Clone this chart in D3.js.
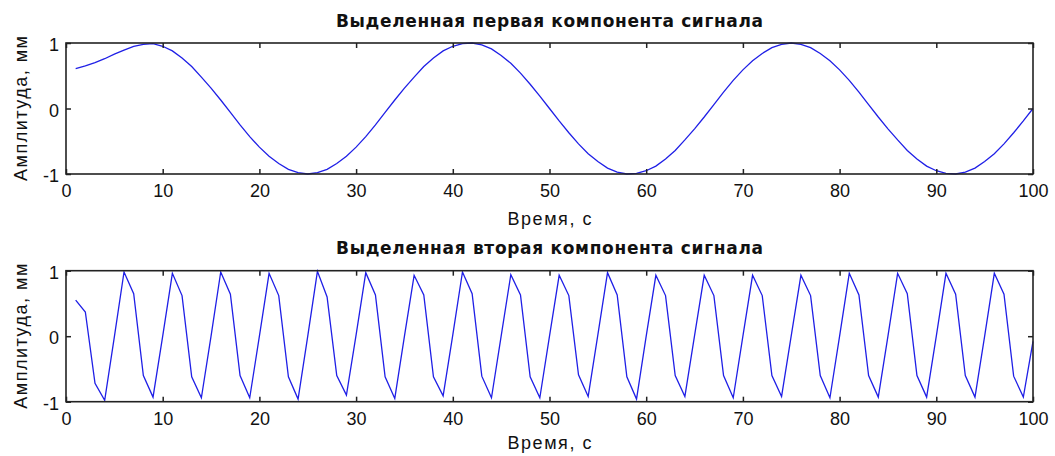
<!DOCTYPE html>
<html>
<head>
<meta charset="utf-8">
<script src="https://cdn.jsdelivr.net/npm/d3@7"></script>
<style>
  body { margin: 0; background: #fff; }
  svg text { font-family: Arial, "Liberation Sans", sans-serif; fill: #111; }
</style>
</head>
<body>
<div id="chart"></div>
<script>
// time samples, s
let time = d3.range(1, 101)

// first component (slow wave)
let comp1 = [
  0.61, 0.65, 0.70, 0.76, 0.83, 0.89, 0.95, 0.98, 0.99, 0.95,
  0.88, 0.77, 0.64, 0.48, 0.31, 0.13, -0.06, -0.25, -0.43, -0.59,
  -0.73, -0.84, -0.93, -0.98, -1.00, -0.98, -0.93, -0.84, -0.73, -0.59,
  -0.43, -0.25, -0.06, 0.13, 0.31, 0.48, 0.64, 0.77, 0.88, 0.95,
  0.99, 1.00, 0.97, 0.91, 0.81, 0.69, 0.54, 0.37, 0.19, 0.00,
  -0.19, -0.37, -0.54, -0.69, -0.81, -0.91, -0.97, -1.00, -0.99, -0.95,
  -0.88, -0.77, -0.64, -0.48, -0.31, -0.13, 0.06, 0.25, 0.43, 0.59,
  0.73, 0.84, 0.93, 0.98, 1.00, 0.98, 0.93, 0.84, 0.73, 0.59,
  0.43, 0.25, 0.06, -0.13, -0.31, -0.48, -0.64, -0.77, -0.88, -0.95,
  -0.99, -1.00, -0.97, -0.91, -0.81, -0.69, -0.54, -0.37, -0.19, 0.00
]

// second component (fast wave)
let comp2 = [
  0.55, 0.37, -0.72, -0.98, -0.01, 0.98, 0.65, -0.60, -0.93, 0.00,
  0.96, 0.62, -0.62, -0.94, 0.00, 0.98, 0.64, -0.60, -0.94, 0.00,
  0.96, 0.62, -0.62, -0.96, 0.00, 0.99, 0.60, -0.60, -0.90, 0.02,
  0.97, 0.63, -0.62, -0.95, 0.00, 0.93, 0.63, -0.62, -0.91, 0.02,
  0.98, 0.65, -0.61, -0.94, 0.00, 0.94, 0.63, -0.62, -0.94, 0.00,
  0.93, 0.62, -0.59, -0.92, 0.02, 0.97, 0.63, -0.62, -0.96, 0.00,
  0.93, 0.62, -0.60, -0.92, 0.01, 0.93, 0.62, -0.60, -0.94, 0.00,
  0.93, 0.62, -0.60, -0.92, 0.01, 0.93, 0.62, -0.60, -0.94, 0.00,
  0.96, 0.63, -0.60, -0.93, 0.00, 0.96, 0.65, -0.60, -0.93, 0.00,
  0.96, 0.64, -0.60, -0.93, 0.00, 0.96, 0.64, -0.61, -0.93, -0.08
]

let xTicks = [0, 10, 20, 30, 40, 50, 60, 70, 80, 90, 100]
let yTicks = [-1, 0, 1]

let titles = ["Выделенная первая компонента сигнала", "Выделенная вторая компонента сигнала"]
let xLabel = "Время, с"
let yLabel = "Амплитуда, мм"

/* SVG */
let svgWidth = 1055
let svgHeight = 456
let svg = d3.select("#chart").append("svg").attr("width", svgWidth).attr("height", svgHeight)

let left = 66, right = 1033
let panelTops = [43, 270.7]
let panelHeight = 131

let x = d3.scaleLinear().domain([0, 100]).range([0, right - left])
let y = d3.scaleLinear().domain([-1, 1]).range([panelHeight, 0])

function drawPanel(i, values) {
  let g = svg.append("g").attr("transform", `translate(${left}, ${panelTops[i]})`)
  let w = right - left

  // the curve
  let line = d3.line().x((d, k) => x(time[k])).y(d => y(d))
  g.append("path").datum(values)
    .attr("d", line)
    .attr("fill", "none")
    .attr("stroke", "#1f1fe6")
    .attr("stroke-width", 1.3)

  // axes, ticks pointing inside like matlab
  let bottom = g.append("g").attr("transform", `translate(0, ${panelHeight})`)
    .call(d3.axisBottom(x).tickValues(xTicks).tickSizeInner(-5).tickSizeOuter(0).tickPadding(10.5))
  g.append("g")
    .call(d3.axisTop(x).tickValues(xTicks).tickSizeInner(-5).tickSizeOuter(0).tickFormat(""))
  let leftAx = g.append("g")
    .call(d3.axisLeft(y).tickValues(yTicks).tickFormat(d => String(d)).tickSizeInner(-5).tickSizeOuter(0).tickPadding(7))
  g.append("g").attr("transform", `translate(${w}, 0)`)
    .call(d3.axisRight(y).tickValues(yTicks).tickSizeInner(-5).tickSizeOuter(0).tickFormat(""))

  g.selectAll(".domain").remove()
  g.selectAll(".tick line").attr("stroke", "#222").attr("stroke-width", 1.5)
  bottom.selectAll("text").attr("font-size", 18).attr("font-family", null)
  leftAx.selectAll("text").attr("font-size", 18).attr("font-family", null).attr("dy", "0.42em")

  g.append("rect")
    .attr("width", w).attr("height", panelHeight)
    .attr("fill", "none").attr("stroke", "#222").attr("stroke-width", 1.6)

  // title and labels
  g.append("text")
    .attr("x", w / 2).attr("y", -16.5)
    .attr("text-anchor", "middle")
    .style("font-family", "'DejaVu Sans', sans-serif")
    .attr("font-size", 17).attr("font-weight", "bold")
    .attr("textLength", 427).attr("lengthAdjust", "spacing")
    .text(titles[i])

  g.append("text")
    .attr("x", w / 2).attr("y", panelHeight + (i == 0 ? 51 : 47.5))
    .attr("text-anchor", "middle")
    .attr("font-size", 18)
    .attr("textLength", 84).attr("lengthAdjust", "spacing")
    .text(xLabel)

  g.append("text")
    .attr("transform", `translate(${27 - left}, ${panelHeight / 2}) rotate(-90)`)
    .attr("text-anchor", "middle")
    .attr("font-size", 18)
    .attr("textLength", 145).attr("lengthAdjust", "spacing")
    .text(yLabel)
}

drawPanel(0, comp1)
drawPanel(1, comp2)
</script>
</body>
</html>
